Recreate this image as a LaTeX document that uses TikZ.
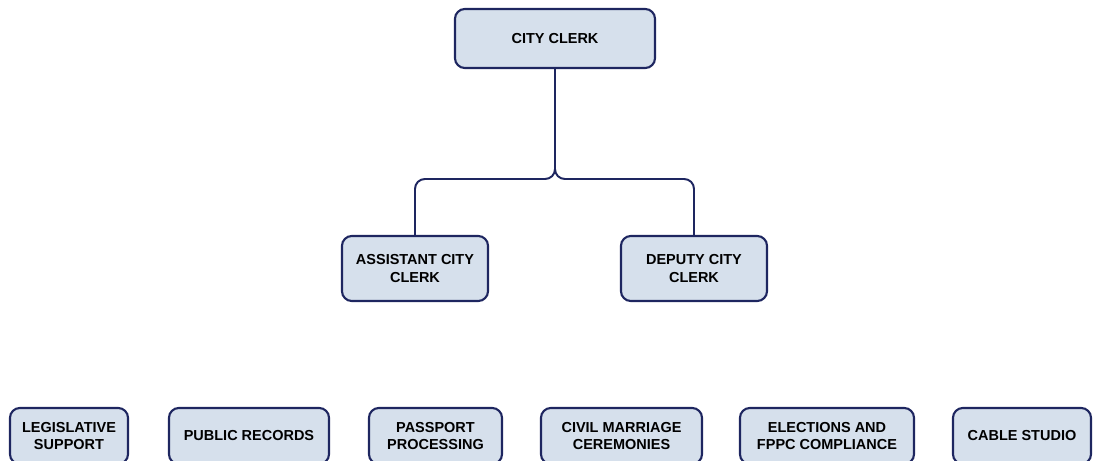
\documentclass[tikz,border=0pt]{standalone}
\usepackage{fontspec}
\setmainfont{Liberation Sans}
\usepackage{xcolor}
\usepackage{tikz}

\definecolor{boxfill}{RGB}{214,224,236}
\definecolor{boxline}{RGB}{30,38,96}

\tikzset{
  unitbox/.style={draw=boxline, fill=boxfill, line width=1.5pt, rounded corners=7pt,
    align=center, inner sep=0pt, font=\bfseries\fontsize{10.3}{12.2}\selectfont},
  link/.style={draw=boxline, line width=1.4pt, rounded corners=7pt}
}

\begin{document}
\begin{tikzpicture}[x=0.025cm, y=-0.025cm]
    % Fix page size
    \useasboundingbox (0,0) rectangle (1094,461);
    \clip (0,0) rectangle (1094,461);

    % Draw top of chart
    \node[unitbox, minimum width=5cm, minimum height=1.475cm] (clerk) at (555,38.5) {CITY CLERK};

    % Draw second level
    \node[unitbox, minimum width=3.65cm, minimum height=1.625cm] (asst) at (415,268.5) {ASSISTANT CITY\\CLERK};
    \node[unitbox, minimum width=3.65cm, minimum height=1.625cm] (deputy) at (694,268.5) {DEPUTY CITY\\CLERK};

    % Draw connectors
    \draw[link] (clerk.south) -- (555,179) -- (415,179) -- (asst.north);
    \draw[link] (clerk.south) -- (555,179) -- (694,179) -- (deputy.north);

    % Draw bottom row
    \node[unitbox, minimum width=2.95cm, minimum height=1.4cm] (legis) at (69,436) {LEGISLATIVE\\SUPPORT};
    \node[unitbox, minimum width=4cm, minimum height=1.4cm] (records) at (249,436) {PUBLIC RECORDS};
    \node[unitbox, minimum width=3.325cm, minimum height=1.4cm] (passport) at (435.5,436) {PASSPORT\\PROCESSING};
    \node[unitbox, minimum width=4.025cm, minimum height=1.4cm] (marriage) at (621.5,436) {CIVIL MARRIAGE\\CEREMONIES};
    \node[unitbox, minimum width=4.35cm, minimum height=1.4cm] (elections) at (827,436) {ELECTIONS AND\\FPPC COMPLIANCE};
    \node[unitbox, minimum width=3.45cm, minimum height=1.4cm] (cable) at (1022,436) {CABLE STUDIO};
\end{tikzpicture}
\end{document}
